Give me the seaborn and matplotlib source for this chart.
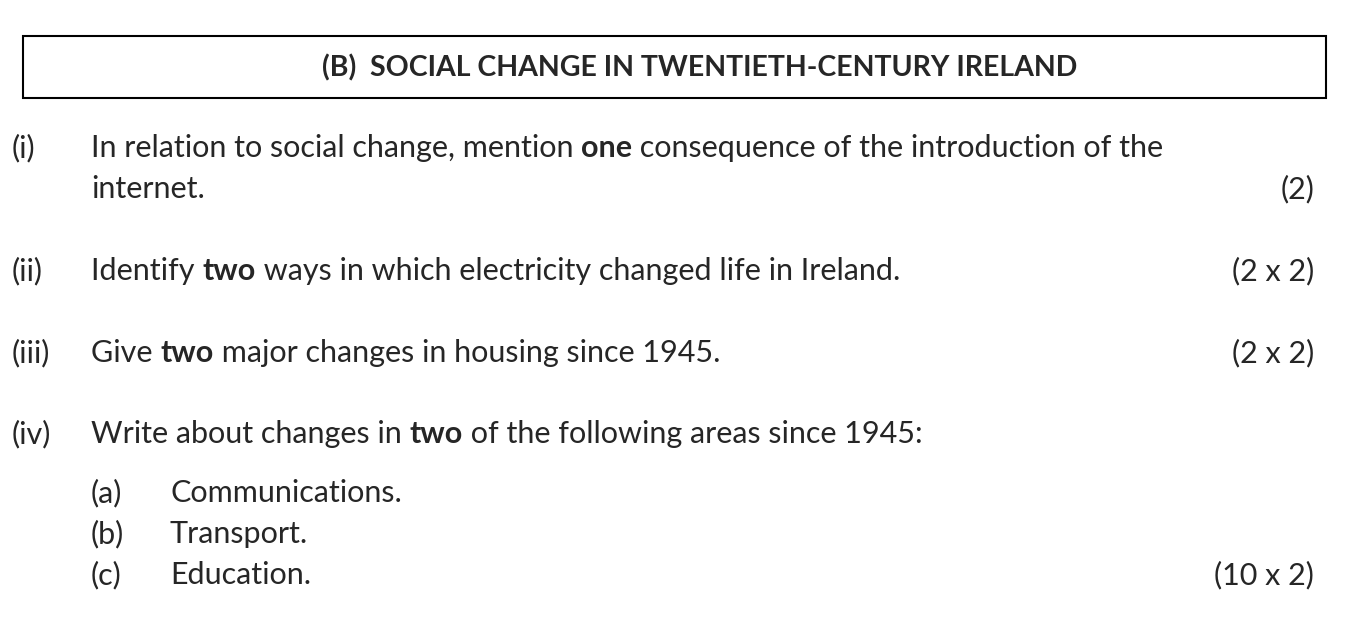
import matplotlib
matplotlib.use("Agg")
import matplotlib.pyplot as plt
import seaborn as sns
from matplotlib.patches import Rectangle

sns.set_style("white")
plt.rcParams['font.family'] = ['Lato', 'DejaVu Sans']

W, H = 1368, 624
title = "(B)  SOCIAL CHANGE IN TWENTIETH-CENTURY IRELAND"

# each row: (label, label_x, text_x, y, pieces [(text, bold)], marks)
rows = [
    ("(i)", 12, 91, 148, [("In relation to social change, mention ", False), ("one", True),
                          (" consequence of the introduction of the", False)], ""),
    ("", 12, 91, 189, [("internet.", False)], "(2)"),
    ("(ii)", 12, 91, 271, [("Identify ", False), ("two", True),
                           (" ways in which electricity changed life in Ireland.", False)], "(2 x 2)"),
    ("(iii)", 12, 91, 353, [("Give ", False), ("two", True),
                            (" major changes in housing since 1945.", False)], "(2 x 2)"),
    ("(iv)", 12, 91, 434, [("Write about changes in ", False), ("two", True),
                           (" of the following areas since 1945:", False)], ""),
    ("(a)", 91, 170, 493, [("Communications.", False)], ""),
    ("(b)", 91, 170, 534, [("Transport.", False)], ""),
    ("(c)", 91, 170, 575, [("Education.", False)], "(10 x 2)"),
]

fs = 22
fs_title = 20.5
fig = plt.figure(figsize=(W / 100, H / 100), dpi=100)
ax = fig.add_axes([0, 0, 1, 1])
ax.set_xlim(0, W)
ax.set_ylim(H, 0)
ax.axis("off")

ax.add_patch(Rectangle((23, 36), 1303, 62, fill=False, lw=1.5, ec="black"))
ax.text(700, 68, title, ha="center", va="center", fontsize=fs_title, fontweight="bold")

fig.canvas.draw()
renderer = fig.canvas.get_renderer()
inv = ax.transData.inverted()

for label, lx, tx, y, pieces, marks in rows:
    if label:
        ax.text(lx, y, label, ha="left", va="center", fontsize=fs)
    x = tx
    for txt, bold in pieces:
        t = ax.text(x, y, txt, ha="left", va="center", fontsize=fs,
                    fontweight="bold" if bold else "normal")
        bb = t.get_window_extent(renderer)
        x = inv.transform((bb.x1, bb.y0))[0]
    if marks:
        ax.text(1314, y, marks, ha="right", va="center", fontsize=fs)

fig.savefig("out.png", dpi=100)
